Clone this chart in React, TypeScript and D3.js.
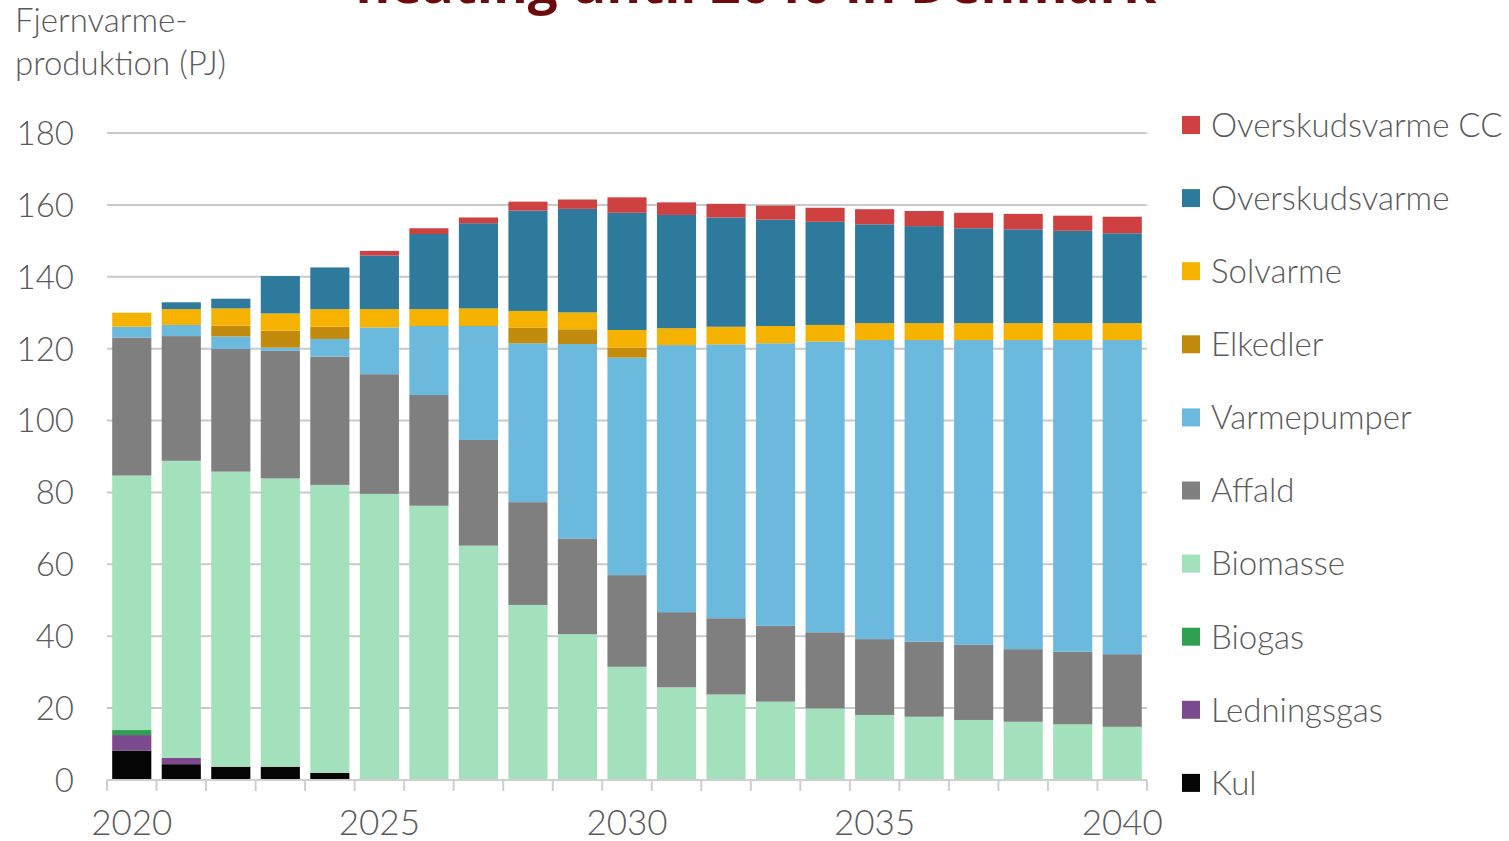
import React from "react";
import * as d3 from "d3";

const years = [2020, 2021, 2022, 2023, 2024, 2025, 2026, 2027, 2028, 2029, 2030, 2031, 2032, 2033, 2034, 2035, 2036, 2037, 2038, 2039, 2040];
const xTickLabels = [2020, 2025, 2030, 2035, 2040];
const yTicks = [0, 20, 40, 60, 80, 100, 120, 140, 160, 180];

const kul = [8.2, 4.4, 3.7, 3.7, 2.0, 0, 0, 0, 0, 0, 0, 0, 0, 0, 0, 0, 0, 0, 0, 0, 0];
const ledningsgas = [4.3, 1.8, 0, 0, 0, 0, 0, 0, 0, 0, 0, 0, 0, 0, 0, 0, 0, 0, 0, 0, 0];
const biogas = [1.4, 0, 0, 0, 0, 0, 0, 0, 0, 0, 0, 0, 0, 0, 0, 0, 0, 0, 0, 0, 0];
const biomasse = [70.8, 82.6, 82.1, 80.2, 80.1, 79.6, 76.3, 65.2, 48.7, 40.6, 31.5, 25.8, 23.8, 21.8, 19.9, 18.1, 17.6, 16.7, 16.2, 15.5, 14.8];
const affald = [38.4, 34.7, 34.1, 35.5, 35.7, 33.3, 30.8, 29.4, 28.6, 26.6, 25.5, 20.9, 21.2, 21.1, 21.2, 21.1, 20.9, 20.9, 20.2, 20.2, 20.2];
const varmepumper = [3.0, 3.1, 3.5, 0.9, 4.9, 13.0, 19.2, 31.7, 44.2, 54.1, 60.5, 74.3, 76.2, 78.6, 80.9, 83.2, 83.9, 84.8, 86.0, 86.7, 87.4];
const elkedler = [0, 0, 3.0, 4.7, 3.4, 0, 0, 0, 4.4, 4.1, 2.8, 0, 0, 0, 0, 0, 0, 0, 0, 0, 0];
const solvarme = [3.9, 4.4, 4.8, 4.8, 4.9, 5.1, 4.7, 4.9, 4.6, 4.7, 4.9, 4.7, 4.9, 4.8, 4.6, 4.7, 4.7, 4.7, 4.7, 4.7, 4.7];
const overskudsvarme = [0, 1.9, 2.7, 10.4, 11.6, 14.9, 20.9, 23.7, 27.9, 28.8, 32.6, 31.5, 30.4, 29.6, 28.7, 27.5, 27.0, 26.4, 26.1, 25.7, 25.0];
const overskudsvarmeCC = [0, 0, 0, 0, 0, 1.3, 1.6, 1.6, 2.5, 2.6, 4.3, 3.5, 3.8, 3.9, 3.9, 4.2, 4.2, 4.3, 4.3, 4.2, 4.6];

const seriesNames = ["Kul", "Ledningsgas", "Biogas", "Biomasse", "Affald", "Varmepumper", "Elkedler", "Solvarme", "Overskudsvarme", "Overskudsvarme CC"];
const seriesValues = [kul, ledningsgas, biogas, biomasse, affald, varmepumper, elkedler, solvarme, overskudsvarme, overskudsvarmeCC];
const seriesColors = ["#050505", "#7b4a8f", "#2f9f52", "#a3e0bc", "#7f7f7f", "#6bb9dd", "#c28b0e", "#f5b300", "#2e7a9d", "#cf4040"];

const W = 1509;
const H = 841;
const FONT = "Lato, 'Open Sans', sans-serif";
const TEXT = "#5a5a5a";

export default function App() {
  const rows = years.map((yr, i) => {
    const r: Record<string, number> = { year: yr };
    seriesNames.forEach((n, k) => (r[n] = seriesValues[k][i]));
    return r;
  });
  const stacked = d3.stack<Record<string, number>>().keys(seriesNames)(rows);

  const x = d3
    .scaleBand<number>()
    .domain(years)
    .range([107, 1147])
    .paddingInner(0.21)
    .paddingOuter(0.105);
  const y = d3.scaleLinear().domain([0, 180]).range([780, 133]);
  const step = x.step();
  const tickXs = d3.range(years.length + 1).map((k) => 107 + k * step);

  const legendItems = seriesNames.map((n, k) => ({ name: n, color: seriesColors[k] })).reverse();

  return (
    <div style={{ position: "absolute", left: 0, top: 0 }}>
      <svg width={W} height={H} style={{ display: "block", background: "#fff" }}>
        <text
          x={756}
          y={3}
          textAnchor="middle"
          fontFamily="'Open Sans', sans-serif"
          fontWeight={700}
          fontSize={53}
          fill="#6b0b0b"
        >
          heating until 2040 in Denmark
        </text>
        <text x={15} y={32} fontFamily={FONT} fontWeight={300} fontSize={33} fill={TEXT}>
          Fjernvarme-
        </text>
        <text x={15} y={75} fontFamily={FONT} fontWeight={300} fontSize={33} fill={TEXT}>
          produktion (PJ)
        </text>

        {yTicks.map((t) => (
          <g key={t}>
            {t > 0 && (
              <line x1={107} x2={1147} y1={y(t)} y2={y(t)} stroke="#c9c9c9" strokeWidth={2} />
            )}
            <text
              x={74}
              y={y(t)}
              dy="0.36em"
              textAnchor="end"
              fontFamily={FONT}
              fontWeight={300}
              fontSize={33}
              fill={TEXT}
            >
              {t}
            </text>
          </g>
        ))}

        {stacked.map((s, k) =>
          s.map((d, i) => {
            const h = y(d[0]) - y(d[1]);
            if (h <= 0) return null;
            return (
              <rect
                key={`${k}-${i}`}
                x={x(years[i])}
                y={y(d[1])}
                width={x.bandwidth()}
                height={h}
                fill={seriesColors[k]}
              />
            );
          })
        )}

        <line x1={107} x2={1147} y1={780} y2={780} stroke="#cfcfcf" strokeWidth={2} />
        {tickXs.map((tx, k) => (
          <line key={k} x1={tx} x2={tx} y1={780} y2={791} stroke="#cfcfcf" strokeWidth={2} />
        ))}
        {xTickLabels.map((yr) => (
          <text
            key={yr}
            x={(x(yr) as number) + x.bandwidth() / 2}
            y={835}
            textAnchor="middle"
            fontFamily={FONT}
            fontWeight={300}
            fontSize={35}
            fill={TEXT}
          >
            {yr}
          </text>
        ))}

        {legendItems.map((it, k) => {
          const cy = 125 + k * 73.1;
          return (
            <g key={it.name}>
              <rect x={1182} y={cy - 9} width={18} height={18} fill={it.color} />
              <text
                x={1211}
                y={cy}
                dy="0.36em"
                fontFamily={FONT}
                fontWeight={300}
                fontSize={33}
                fill={TEXT}
              >
                {it.name}
              </text>
            </g>
          );
        })}
      </svg>
    </div>
  );
}
